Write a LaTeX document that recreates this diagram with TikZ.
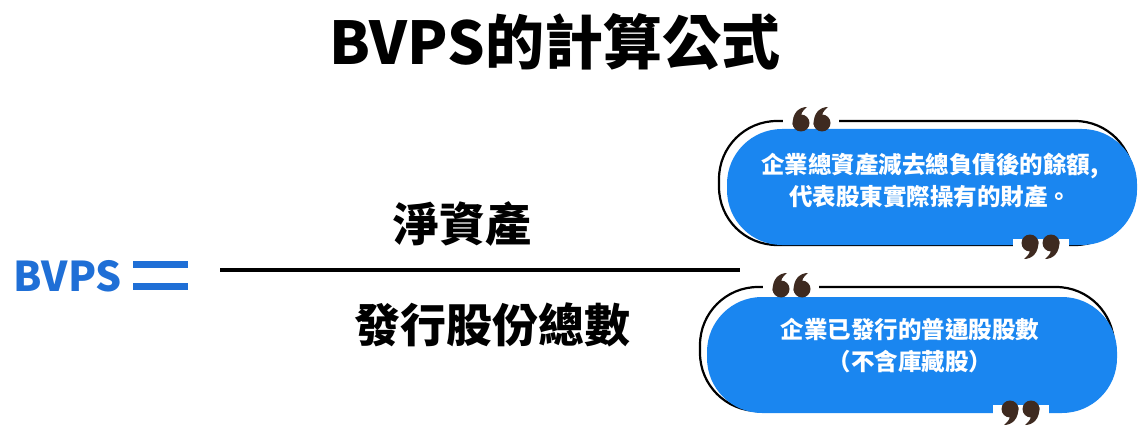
\documentclass[tikz,border=0pt]{standalone}
\usepackage{fontspec}
\newfontfamily\cjk{Noto Sans CJK TC}
\usetikzlibrary{positioning}
\definecolor{bvblue}{HTML}{1F6FD6}
\definecolor{pillblue}{HTML}{1A86F0}
\definecolor{quotebrown}{HTML}{3E2A20}
\tikzset{
  pill/.style={rounded corners=55pt, fill=pillblue, minimum width=410pt, minimum height=116pt, inner sep=0pt},
  pillline/.style={rounded corners=58pt, draw=black, line width=2.2pt, minimum width=414pt, minimum height=124pt, inner sep=0pt},
  note/.style={text=white, align=center, font=\cjk\bfseries\fontsize{23.5}{32}\selectfont},
  big/.style={font=\cjk\bfseries\fontsize{46}{50}\selectfont},
  qgap/.style={fill=white, minimum width=56pt, minimum height=12pt, inner sep=0pt}
}
% #1,#2 centre, #3 = 1 for opening, -1 for closing
\newcommand\quotepair[3]{%
  \foreach \dx in {-10,11}{
    \begin{scope}[shift={(#1,#2)}, xscale=#3, yscale=#3, shift={(\dx,0)}]
      \fill[quotebrown] (0,0) circle (8.5);
      \fill[quotebrown] (-8.3,2) .. controls (-9,-10) and (-2,-16) .. (6,-16)
        .. controls (1,-12) and (-1,-8) .. (1,-6) -- cycle;
    \end{scope}
  }}
\begin{document}
\begin{tikzpicture}[x=1pt,y=-1pt]
\useasboundingbox (0,0) rectangle (1140,433);

\node[font=\cjk\bfseries\fontsize{59}{62}\selectfont] (title) at (555,42) {BVPS的計算公式};

% left side
\node[text=bvblue, font=\cjk\bfseries\fontsize{41}{44}\selectfont] (bvps) at (68,276) {BVPS};
\fill[bvblue] (133,261) rectangle (188,268);
\fill[bvblue] (133,283) rectangle (188,290);
\coordinate (fl) at (220,270);
\coordinate (fr) at (740,270);
\draw[line width=4pt] (fl) -- (fr);
\node[big] (num) at (462,224) {淨資產};
\node[big] (den) at (492,325) {發行股份總數};

% top bubble
\node[pillline] (o1) at (926,183) {};
\node[pill] (p1) at (932,187) {};
\node[note] (t1) at (930,181) {企業總資產減去總負債後的餘額,\\代表股東實際操有的財產。};
\node[qgap] (g1) at (811,121) {};
\node[qgap] (g2) at (1041,245) {};
\quotepair{811}{123}{1}
\quotepair{1041}{243}{-1}

% bottom bubble
\node[pillline] (o2) at (907,349) {};
\node[pill] (p2) at (912,355) {};
\node[note] (t2) at (910,346) {企業已發行的普通股股數\\（不含庫藏股）};
\node[qgap] (g3) at (791,287) {};
\node[qgap] (g4) at (1021,411) {};
\quotepair{791}{289}{1}
\quotepair{1021}{409}{-1}
\end{tikzpicture}
\end{document}
